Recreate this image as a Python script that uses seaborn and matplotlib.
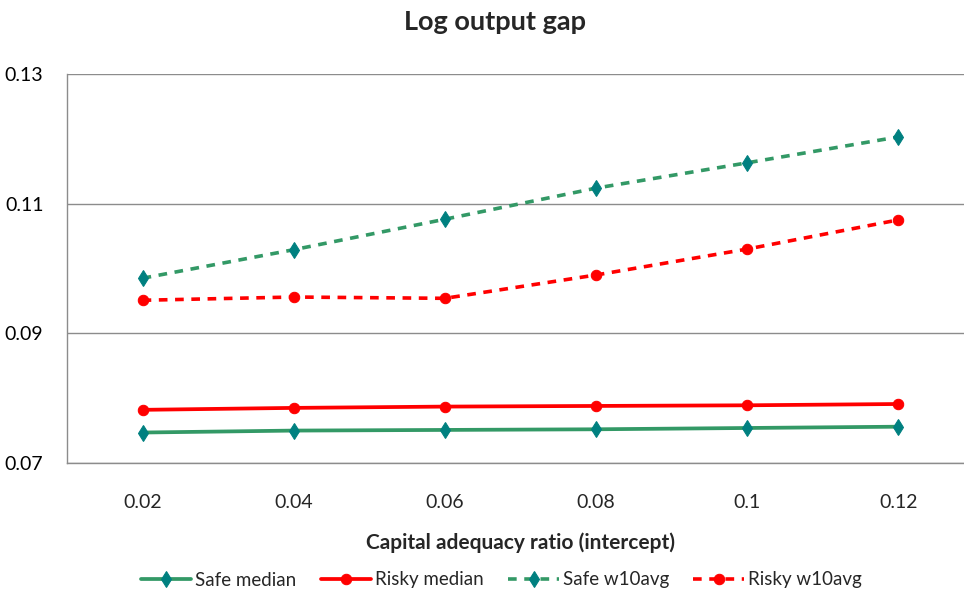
import matplotlib
matplotlib.use("Agg")
import matplotlib.pyplot as plt
import seaborn as sns
import pandas as pd
from matplotlib.ticker import FixedLocator

# ---- data ----
categories = ["0.02", "0.04", "0.06", "0.08", "0.1", "0.12"]
safe_median = [0.0747, 0.0750, 0.0751, 0.0752, 0.0754, 0.0756]
risky_median = [0.0782, 0.0785, 0.0787, 0.0788, 0.0789, 0.0791]
safe_w10avg = [0.0985, 0.1029, 0.1076, 0.1124, 0.1163, 0.1203]
risky_w10avg = [0.0951, 0.0956, 0.0954, 0.0990, 0.1030, 0.1075]
series_names = ["Safe median", "Risky median", "Safe w10avg", "Risky w10avg"]
y_ticks = [0.07, 0.09, 0.11, 0.13]

sns.set_style("white")
plt.rcParams["font.family"] = ["Lato", "DejaVu Sans"]

GREEN = "#339966"
TEAL = "#008080"
RED = "#FF0000"

fig = plt.figure(figsize=(9.64, 5.91), dpi=100)
W, H = 964, 591
left, right, top, bottom = 67, 974, 74, 463
ax = fig.add_axes([left / W, 1 - bottom / H, (right - left) / W, (bottom - top) / H])

df = pd.DataFrame({"x": categories, series_names[0]: safe_median,
                   series_names[1]: risky_median, series_names[2]: safe_w10avg,
                   series_names[3]: risky_w10avg})

styles = {
    "Safe median": dict(color=GREEN, marker="d", markersize=8.5, markerfacecolor=TEAL,
                        markeredgecolor=TEAL, linewidth=2.7, linestyle="-"),
    "Risky median": dict(color=RED, marker="o", markersize=7.5, markerfacecolor=RED,
                         markeredgecolor=RED, linewidth=2.7, linestyle="-"),
    "Safe w10avg": dict(color=GREEN, marker="d", markersize=8.5, markerfacecolor=TEAL,
                        markeredgecolor=TEAL, linewidth=2.6, linestyle=(0, (2.4, 2.1))),
    "Risky w10avg": dict(color=RED, marker="o", markersize=7.5, markerfacecolor=RED,
                         markeredgecolor=RED, linewidth=2.6, linestyle=(0, (2.4, 2.1))),
}

for name in series_names:
    sns.lineplot(data=df, x="x", y=name, ax=ax, label=name, sort=False, **styles[name])

ax.set_xlim(-0.5, len(categories) - 0.5)
ax.set_ylim(0.07, 0.13)
ax.set_yticks(y_ticks)
ax.set_yticklabels([f"{t:g}" for t in y_ticks])
ax.yaxis.grid(True, color="#8c8c8c", linewidth=1.0)
ax.xaxis.grid(False)
ax.tick_params(axis="y", length=0, labelsize=14, pad=17, colors="#000000")
ax.tick_params(axis="x", which="major", length=0, labelsize=14, pad=22)
ax.xaxis.set_minor_locator(FixedLocator([i + 0.5 for i in range(len(categories) - 1)]))
ax.tick_params(axis="x", which="minor", direction="in", length=6, width=1, color="#8c8c8c")

for s in ["top", "right"]:
    ax.spines[s].set_visible(False)
for s in ["left", "bottom"]:
    ax.spines[s].set_color("#8c8c8c")
    ax.spines[s].set_linewidth(1.0)

ax.set_ylabel("")
ax.set_xlabel("Capital adequacy ratio (intercept)", fontsize=15, fontweight="bold", labelpad=16)

fig.text(495 / W, 1 - 22 / H, "Log output gap", fontsize=19.5, fontweight="bold",
         ha="center", va="center")

handles, labels = ax.get_legend_handles_labels()
if ax.legend_:
    ax.legend_.remove()
fig.legend(handles, labels, loc="center", bbox_to_anchor=(501 / W, 1 - 580 / H), ncol=4,
           frameon=False, fontsize=13.5, handlelength=2.7, columnspacing=1.3, handletextpad=0.2)

fig.savefig("out.png", dpi=100)
